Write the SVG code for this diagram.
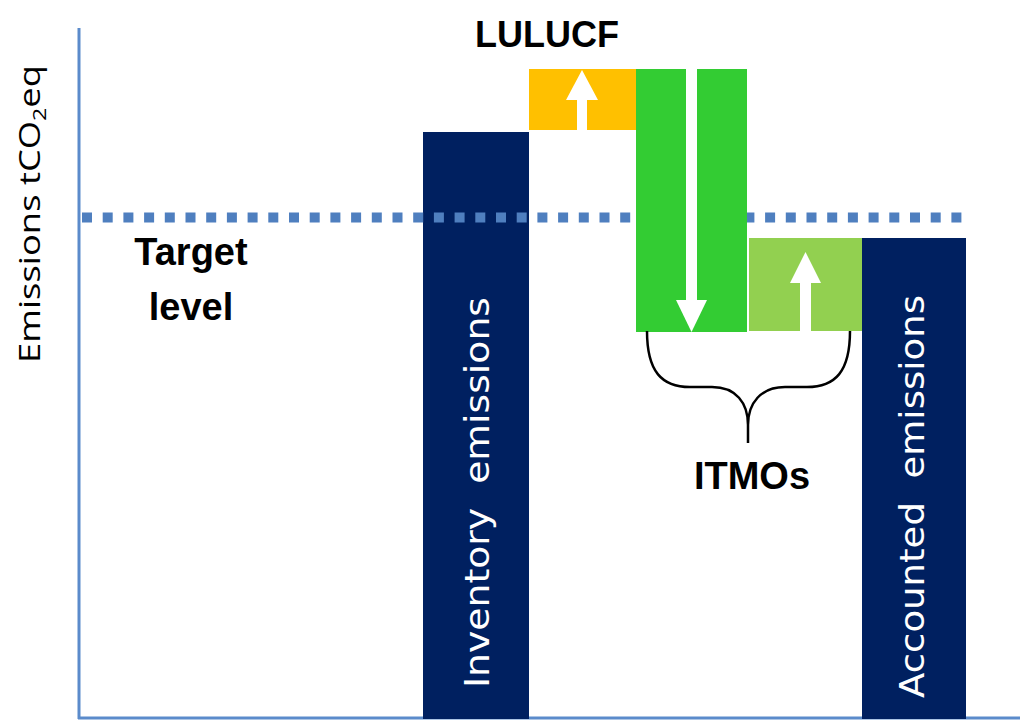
<svg xmlns="http://www.w3.org/2000/svg" width="1020" height="721" viewBox="0 0 1020 721">
<style>
.axis{stroke:#5B8BCB;stroke-width:3;fill:none}
.target{stroke:#4F7FBF;stroke-width:10;stroke-dasharray:10 10.7;fill:none}
.navy{fill:#002060}
.arrow{fill:#FFFFFF}
.brace{stroke:#000;stroke-width:2.5;fill:none}
.lbl{font-family:"Liberation Sans",Arial,sans-serif;font-weight:bold;fill:#000}
.bartxt{font-family:"DejaVu Sans",Verdana,sans-serif;font-size:33px;fill:#FFFFFF;white-space:pre}
.ytxt{font-family:"Open Sans","Liberation Sans",sans-serif;font-size:30px;fill:#000}
</style>
<rect width="1020" height="721" fill="#FFFFFF"/>
<g id="axes">
<line class="axis" x1="79" y1="28" x2="79" y2="719"/>
<line class="axis" x1="78" y1="718" x2="1020" y2="718"/>
<text class="ytxt" transform="translate(40,363) rotate(-90)" textLength="298" lengthAdjust="spacingAndGlyphs">Emissions tCO<tspan font-size="19" dy="6">2</tspan><tspan dy="-6">eq</tspan></text>
</g>
<g id="inventory">
<rect class="navy" x="423" y="132" width="106" height="587"/>
<text class="bartxt" transform="translate(489,688) rotate(-90)" textLength="391" lengthAdjust="spacingAndGlyphs">Inventory  emissions</text>
</g>
<g id="target-level">
<line class="target" x1="82" y1="217.5" x2="966" y2="217.5"/>
<text class="lbl" font-size="38" x="191" y="265" text-anchor="middle">Target</text>
<text class="lbl" font-size="38" x="191" y="320" text-anchor="middle">level</text>
</g>
<g id="lulucf">
<rect x="529" y="69" width="107" height="61" fill="#FFC000"/>
<text class="lbl" font-size="36" x="547" y="47" text-anchor="middle">LULUCF</text>
</g>
<g id="itmo-sold">
<rect x="636" y="69" width="111" height="263" fill="#33CC33"/>
</g>
<g id="itmo-acquired">
<rect x="749" y="238" width="113" height="93" fill="#92D050"/>
</g>
<g id="accounted">
<rect class="navy" x="862" y="238" width="104" height="481"/>
<text class="bartxt" transform="translate(924,698) rotate(-90)" textLength="403" lengthAdjust="spacingAndGlyphs">Accounted  emissions</text>
</g>
<g id="connectors">
<rect class="arrow" x="577" y="99" width="10" height="31"/>
<polygon class="arrow" points="582,70 566,100 598,100"/>
<rect class="arrow" x="686" y="69" width="11" height="232"/>
<polygon class="arrow" points="676,300 707,300 691.5,332"/>
<rect class="arrow" x="800" y="282" width="11" height="49"/>
<polygon class="arrow" points="790,283 821,283 805.5,252"/>
<path class="brace" d="M647,331 C647,372 662,387 690,387 L712,387 C736,387 748,403 748,425 L748,443 M850,331 C850,372 835,387 807,387 L785,387 C761,387 748,403 748,425"/>
</g>
<g id="itmos-label">
<text class="lbl" font-size="38" x="752" y="489" text-anchor="middle">ITMOs</text>
</g>
</svg>
